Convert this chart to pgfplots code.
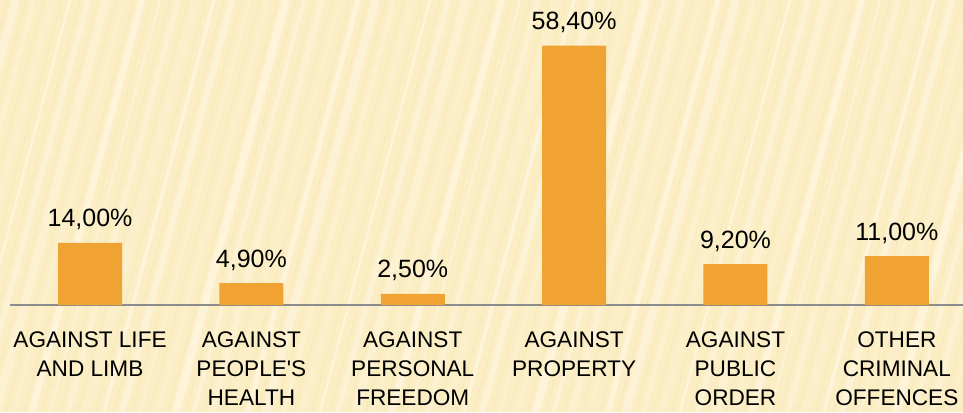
\documentclass[border=0pt]{standalone}
\usepackage{pgfplots}
\pgfplotsset{compat=1.18}
\usepackage{fontspec}
\setmainfont{Liberation Sans}
\definecolor{bg}{RGB}{252,238,196}
\definecolor{streak}{RGB}{240,224,176}
\definecolor{barc}{RGB}{240,163,50}
\definecolor{axisgray}{RGB}{140,140,140}
\begin{document}
\begin{tikzpicture}[x=1pt,y=1pt]
\fill[bg] (-5,-53.5) rectangle (476.5,152.5);
\begin{scope}
\clip (-5,-53.5) rectangle (476.5,152.5);
\foreach \i in {0,...,70} {
  \pgfmathsetmacro{\w}{1.2+mod(\i*7,5)*0.7}
  \pgfmathsetmacro{\o}{0.15+mod(\i*3,4)*0.08}
  \draw[white, opacity=\o, line width=\w pt] (-70+\i*9, -53.5) -- ++(55,206);
  \draw[streak, opacity=0.3, line width=0.6pt] (-65+\i*9, -53.5) -- ++(55,206);
}
\end{scope}
\begin{axis}[
  at={(0,0)}, anchor=south west,
  scale only axis, width=476.5pt, height=152.5pt,
  xmin=-0.496, xmax=5.41, ymin=0, ymax=68.7,
  axis x line*=bottom, axis y line=none,
  x axis line style={-, draw=axisgray, line width=1pt},
  xtick={0,...,5}, major tick length=0pt,
  xticklabels={{AGAINST LIFE\\AND LIMB},{AGAINST\\PEOPLE\textquotesingle S\\HEALTH},{AGAINST\\PERSONAL\\FREEDOM},{AGAINST\\PROPERTY},{AGAINST\\PUBLIC\\ORDER},{OTHER\\CRIMINAL\\OFFENCES}},
  xticklabel style={font=\fontsize{11.3}{14.4}\selectfont, align=center, anchor=north, yshift=-10pt, text=black},
  clip=false,
]
\addplot[ybar, bar width=32pt, fill=barc, draw=none,
  nodes near coords, point meta=explicit symbolic,
  every node near coord/.append style={font=\fontsize{12.5}{14}\selectfont, text=black, anchor=base, yshift=8pt}]
  coordinates {(0,14.0) [14,00\%] (1,4.9) [4,90\%] (2,2.5) [2,50\%] (3,58.4) [58,40\%] (4,9.2) [9,20\%] (5,11.0) [11,00\%]};
\end{axis}
\pgfresetboundingbox
\useasboundingbox (-5,-53.5) rectangle (476.5,152.5);
\end{tikzpicture}
\end{document}
